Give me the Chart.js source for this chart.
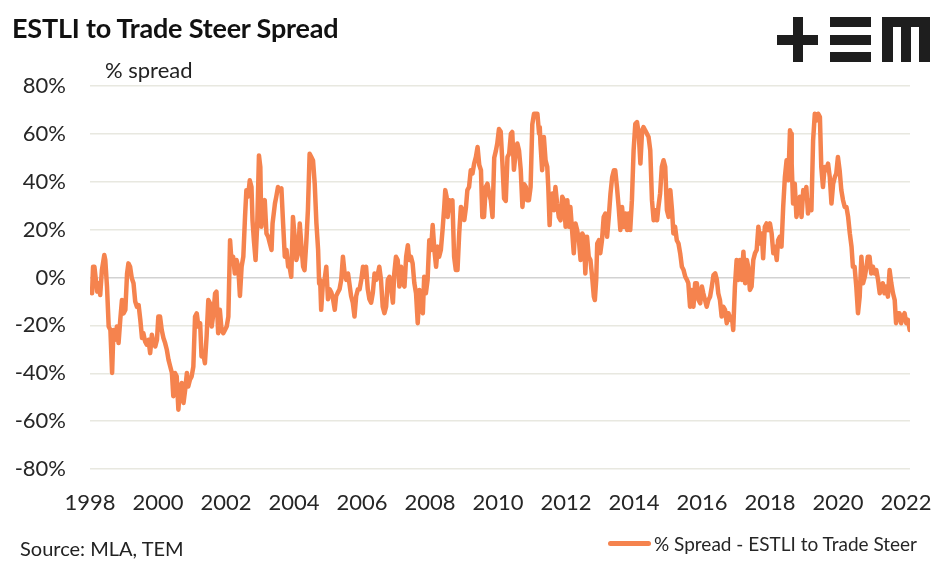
<!DOCTYPE html>
<html>
<head>
<meta charset="utf-8">
<script src="https://cdn.jsdelivr.net/npm/chart.js@4.4.1/dist/chart.umd.min.js"></script>
<style>
  body { margin: 0; background: #fff; font-family: Lato, "Open Sans", sans-serif; }
  #wrap { position: relative; width: 947px; height: 568px; overflow: hidden; }
  #chartBox { position: absolute; left: 0; top: 0; width: 947px; height: 568px; }
  #title { position: absolute; left: 12px; top: 11px; font-size: 27px; font-weight: bold; color: #111; letter-spacing: -0.2px; }
  #unit { position: absolute; left: 105px; top: 56px; font-size: 22px; color: #222; }
  #source { position: absolute; left: 20px; top: 536px; font-size: 20px; color: #222; }
  #legend { position: absolute; left: 608px; top: 531px; height: 24px; display: flex; align-items: center; font-size: 19px; color: #262626; }
  #legend .swatch { width: 43px; height: 5px; border-radius: 3px; background: #F5834E; margin-right: 3px; }
  .lg { position: absolute; background: #1e1e1e; }
</style>
</head>
<body>
<div id="wrap">
  <div id="chartBox"><canvas id="spreadChart"></canvas></div>
  <div id="title">ESTLI to Trade Steer Spread</div>
  <div id="unit">% spread</div>
  <div id="source">Source: MLA, TEM</div>
  <div id="legend"><span class="swatch"></span><span id="legendText"></span></div>
  <!-- logo -->
  <div class="lg" style="left:777px;top:35px;width:41px;height:10px"></div>
  <div class="lg" style="left:793px;top:17px;width:10px;height:45px"></div>
  <div class="lg" style="left:830px;top:17px;width:41px;height:10px"></div>
  <div class="lg" style="left:830px;top:35px;width:41px;height:10px"></div>
  <div class="lg" style="left:830px;top:52px;width:41px;height:10px"></div>
  <div class="lg" style="left:882px;top:17px;width:48px;height:10px"></div>
  <div class="lg" style="left:882px;top:17px;width:11px;height:45px"></div>
  <div class="lg" style="left:901px;top:17px;width:10px;height:45px"></div>
  <div class="lg" style="left:919px;top:17px;width:11px;height:45px"></div>
</div>
<script>
// decimal year of each reading
const dates = [
  1998.06, 1998.09, 1998.13, 1998.21, 1998.25, 1998.30, 1998.35, 1998.42, 1998.45, 1998.50,
  1998.55, 1998.60, 1998.65, 1998.69, 1998.74, 1998.79, 1998.84, 1998.89, 1998.94, 1998.99,
  1999.04, 1999.09, 1999.13, 1999.18, 1999.23, 1999.28, 1999.33, 1999.38, 1999.43, 1999.48,
  1999.53, 1999.57, 1999.62, 1999.67, 1999.72, 1999.77, 1999.82, 1999.87, 1999.92, 1999.97,
  2000.01, 2000.06, 2000.11, 2000.16, 2000.21, 2000.26, 2000.31, 2000.36, 2000.41, 2000.45,
  2000.50, 2000.55, 2000.60, 2000.65, 2000.70, 2000.75, 2000.80, 2000.85, 2000.89, 2000.94,
  2000.99, 2001.04, 2001.09, 2001.14, 2001.19, 2001.24, 2001.28, 2001.33, 2001.38, 2001.43,
  2001.48, 2001.53, 2001.58, 2001.63, 2001.68, 2001.72, 2001.77, 2001.82, 2001.87, 2001.92,
  2001.97, 2002.02, 2002.07, 2002.12, 2002.16, 2002.21, 2002.26,
  2002.31, 2002.36, 2002.41, 2002.46, 2002.51, 2002.56, 2002.60, 2002.65, 2002.70, 2002.75,
  2002.78, 2002.82, 2002.87, 2002.92, 2002.97, 2003.01, 2003.04, 2003.09, 2003.14, 2003.19,
  2003.24, 2003.29, 2003.34, 2003.37, 2003.44, 2003.48, 2003.53, 2003.58, 2003.63, 2003.68,
  2003.73, 2003.78, 2003.83, 2003.87, 2003.92, 2003.97, 2004.02, 2004.07, 2004.12, 2004.17,
  2004.22, 2004.27, 2004.31, 2004.36, 2004.41, 2004.46, 2004.51, 2004.56, 2004.61, 2004.66,
  2004.71, 2004.74, 2004.77, 2004.80, 2004.85, 2004.90, 2004.95, 2005.00, 2005.05, 2005.10,
  2005.15, 2005.20, 2005.24, 2005.29, 2005.34, 2005.39, 2005.44, 2005.49, 2005.54, 2005.59,
  2005.63, 2005.68, 2005.73, 2005.78, 2005.83, 2005.88, 2005.93, 2005.98, 2006.03, 2006.07,
  2006.12, 2006.17, 2006.22, 2006.27, 2006.32, 2006.37, 2006.42, 2006.47, 2006.51, 2006.56,
  2006.61, 2006.66, 2006.71, 2006.76, 2006.81, 2006.86, 2006.91, 2006.95, 2007.00,
  2007.05, 2007.10, 2007.15, 2007.20, 2007.25, 2007.30, 2007.35, 2007.39, 2007.44, 2007.49,
  2007.54, 2007.59, 2007.64, 2007.69, 2007.74, 2007.79, 2007.83, 2007.88, 2007.93, 2007.98,
  2008.03, 2008.08, 2008.13, 2008.18, 2008.23, 2008.27, 2008.32, 2008.37, 2008.42, 2008.45,
  2008.49, 2008.52, 2008.57, 2008.62, 2008.66, 2008.71, 2008.76, 2008.81, 2008.86, 2008.91,
  2008.96, 2009.01, 2009.06, 2009.10, 2009.15, 2009.20, 2009.25, 2009.30, 2009.35, 2009.40,
  2009.45, 2009.50, 2009.54, 2009.59, 2009.64, 2009.69, 2009.74, 2009.79, 2009.84, 2009.89,
  2009.94, 2009.98, 2010.03, 2010.08, 2010.13, 2010.18, 2010.23, 2010.28, 2010.33, 2010.38,
  2010.42, 2010.47, 2010.52, 2010.57, 2010.62, 2010.67, 2010.72, 2010.77, 2010.82, 2010.86,
  2010.91, 2010.96, 2011.01, 2011.06,
  2011.16, 2011.21, 2011.23, 2011.25, 2011.30, 2011.35, 2011.40, 2011.45, 2011.48, 2011.52,
  2011.55, 2011.60, 2011.65, 2011.69, 2011.74, 2011.79, 2011.84, 2011.89, 2011.94, 2011.99,
  2012.04, 2012.09, 2012.13, 2012.18, 2012.23, 2012.28, 2012.33, 2012.38, 2012.43, 2012.48,
  2012.53, 2012.57, 2012.62, 2012.67, 2012.72, 2012.77, 2012.82, 2012.85, 2012.89, 2012.92,
  2012.97, 2013.01, 2013.06, 2013.11, 2013.16, 2013.21, 2013.26, 2013.31, 2013.36, 2013.41,
  2013.45, 2013.50, 2013.55, 2013.60, 2013.65, 2013.70, 2013.75, 2013.80, 2013.84, 2013.89,
  2013.94, 2013.99, 2014.04, 2014.09, 2014.14, 2014.19, 2014.24, 2014.28, 2014.33, 2014.38,
  2014.43, 2014.48, 2014.53, 2014.58, 2014.63, 2014.68, 2014.72, 2014.77, 2014.82, 2014.87,
  2014.92, 2014.97, 2015.02, 2015.07, 2015.12, 2015.16, 2015.21, 2015.26, 2015.31, 2015.36,
  2015.41, 2015.46, 2015.51, 2015.56, 2015.60, 2015.65, 2015.70, 2015.75, 2015.80,
  2015.85, 2015.90, 2015.95, 2016.00, 2016.04, 2016.09, 2016.14, 2016.19, 2016.24, 2016.29,
  2016.34, 2016.39, 2016.44, 2016.48, 2016.53, 2016.58, 2016.63, 2016.68, 2016.73, 2016.78,
  2016.83, 2016.88, 2016.92, 2016.97, 2017.02, 2017.07, 2017.12, 2017.17, 2017.22, 2017.27,
  2017.32, 2017.36, 2017.41, 2017.46, 2017.51, 2017.56, 2017.61, 2017.66, 2017.71, 2017.76,
  2017.80, 2017.85, 2017.90, 2017.95, 2018.00, 2018.05, 2018.10, 2018.15, 2018.20, 2018.24,
  2018.29, 2018.34, 2018.39, 2018.44, 2018.49, 2018.54, 2018.59, 2018.62, 2018.64, 2018.68,
  2018.73, 2018.78, 2018.83, 2018.88, 2018.93, 2018.98, 2019.03, 2019.07, 2019.12, 2019.17,
  2019.22, 2019.27, 2019.32, 2019.37, 2019.42, 2019.47, 2019.51, 2019.56, 2019.61, 2019.66,
  2019.71, 2019.76, 2019.81, 2019.86, 2019.91,
  2019.95, 2020.00, 2020.05, 2020.10, 2020.15, 2020.20, 2020.25, 2020.30, 2020.35, 2020.40,
  2020.44, 2020.49, 2020.54, 2020.59, 2020.64, 2020.69, 2020.74, 2020.79, 2020.84, 2020.88,
  2020.93, 2020.98, 2021.03, 2021.08, 2021.13, 2021.18, 2021.23, 2021.27, 2021.32, 2021.37,
  2021.42, 2021.47, 2021.52, 2021.57, 2021.62, 2021.67, 2021.71, 2021.76, 2021.81, 2021.86,
  2021.91, 2021.96, 2022.01, 2022.06, 2022.11
];

// % spread, ESTLI vs trade steer
const spread = [
  -6.6, 4.5, 4.5, -5.9, -2.4, -7.3, 3.1, 9.4, 7.3, -3.8,
  -20.5, -21.9, -39.9, -21.9, -26, -20.5, -27.4, -17.7, -9.4, -15,
  -13.5, 1.7, 5.9, 4.5, -0.3, -2.4, -10, -12.2, -11.5, -17.7,
  -25.3, -23.3, -26.7, -28.1, -26, -31.6, -23.9, -27.4, -28.8, -26,
  -16.3, -16.3, -21.9, -25.3, -27.4, -30.2, -34.4, -37.2, -39.9, -49.6,
  -39.9, -41.3, -55.2, -45.5, -44.1, -52.4, -46.9, -39.9, -45.5, -42.7,
  -41.3, -37.2, -16.3, -15, -20.5, -19.1, -33, -31.6, -35.8, -24.6,
  -9.4, -10.8, -20.5, -15, -6.6, -5.9, -23.3, -13.5, -21.9, -23.3,
  -21.9, -20.5, -16.3, 15.6, 7.3, 8.7, 1.7,
  7.3, 4.5, -7.7, 4.5, 8.7, 25.3, 36.5, 33.8, 40.6, 37.8,
  23.9, 15.6, 7.3, 22.6, 51, 46.2, 21.2, 30.9, 32.3, 18.4,
  17, 14.2, 11.5, 22.6, 30.9, 33.8, 37.8, 36.5, 37.2, 22.6,
  8.7, 11.5, 4.5, 4.5, 0.3, 25.3, 17, 7.3, 10.1, 22.6,
  12.9, 4.5, 3.1, 14.2, 28.1, 51.7, 50.3, 48.9, 39.2, 22.6,
  11.5, -2.5, -1, -13.5, -2.5, -1, 4.5, -9.1, -4.9, -6.3,
  -9.1, -13.5, -7.7, -6.3, -4.9, -1, 8.7, 1.7, -1, 1.7,
  -2.5, -7.7, -10.5, -16.3, -7.7, -4.9, -4.9, -1, 4.5, 0.3,
  4.5, -4.9, -9.1, -10.5, -6.3, 1.7, -1, 1.7, 4.5, -1,
  -12.2, -14.9, -12.2, -1, 0.3, -4.9, -10.5, 1.7, 8.7,
  7.3, -3.8, 4.5, -2.4, -3.8, 8.7, 13.5, 7.3, 8.7, 5.9,
  -2.4, -6.6, -19.1, -5.2, -13.5, -14.9, 0.3, -6.6, -1, 15.6,
  11.5, 21.9, 11.5, 4.5, 12.9, 8.7, 11.5, 19.8, 29.5, 36.5,
  33.7, 25.3, 32.3, 28.1, 32.3, 8.7, 3.1, 3.1, 18.4, 29.5,
  28.1, 24, 29.5, 36.5, 37.8, 44.8, 43.4, 47.6, 50.3, 54.5,
  47, 44.8, 25.3, 25.3, 37.8, 39.2, 35, 32.3, 25.3, 50,
  53, 56, 62, 61, 48, 33, 32, 50.3, 51.7, 60,
  60.8, 45, 52, 56, 53, 45, 29.5, 39, 37.8, 32.3,
  32.3, 37.8, 64, 68.4,
  68.4, 60.1, 62.8, 56, 44.8, 58.7, 49, 46.2, 37.8, 21.9,
  32.3, 35.1, 28.1, 37.8, 30.9, 25.3, 23.9, 33.7, 32.3, 21.2,
  32.3, 21.2, 29.5, 19.8, 10.1, 22.6, 19.8, 15.6, 7.3, 18.4,
  17, 1.7, 17, 8.7, 7.3, 0.3, -8, -9.4, -0.9, 14.2,
  15.6, 10.1, 15.6, 25.3, 26.7, 17, 25.3, 35.1, 42, 44.8,
  44.8, 37.8, 29.5, 19.8, 29.5, 21.2, 26.7, 19.8, 26.7, 19.8,
  32.3, 53.1, 64.2, 64.9, 60.1, 47.6, 61.5, 62.8, 61.5, 60.1,
  58.7, 53.1, 32.3, 23.9, 28.1, 23.9, 29.5, 35.1, 46.2, 49,
  46.2, 28.1, 25.3, 36.5, 28.1, 18.4, 21.2, 15.6, 14.2, 10.1,
  4.5, 3.1, 0.3, -1, -2.4, -12.2, -5.2, -12.2, -2.4,
  -2.4, -9.4, -10.8, -3.8, -6.6, -9.4, -12.2, -9.4, -8, -3.8,
  1, 1.7, -1, -6.6, -9.4, -16.3, -12.2, -13.5, -19.1, -14.9,
  -17.7, -16.3, -21.9, -3.8, 7.3, -1, 7.3, -1, 10.8, -2.4,
  7.3, 4.5, -5.2, -3.8, 7.3, 10.1, 11.5, 21.2, 14.2, 18.4,
  8, 21.2, 22.6, 19.8, 22.6, 18.4, 10.1, 12.9, 7.3, 15.6,
  17, 12.9, 29.5, 42, 49, 40.6, 61.5, 60.1, 47.6, 30.9,
  39.2, 25.3, 29.5, 33.7, 25.3, 36.5, 33.7, 37.8, 26.7, 32.3,
  28.1, 57.3, 68.4, 65.6, 68.4, 67, 46.2, 37.8, 46.2, 44.8,
  47.6, 42, 30.9, 39.2, 42,
  43.4, 50.3, 44.8, 36.5, 32.3, 29.5, 29.5, 25.3, 18.4, 12.9,
  4.5, 4.5, -3.8, -14.9, -8, 8.7, -2.4, 0.3, 4.5, 8.7,
  8.7, 1.7, 4.5, 1.7, 3.1, -1, -6.6, -3.8, -2.4, -6.6,
  -3.8, -8, 3.1, -2.4, -6.6, -9.4, -19.1, -14.9, -14.9, -19.1,
  -16.3, -14.9, -19.1, -17.7, -21.9
];

const yTicks = [-80, -60, -40, -20, 0, 20, 40, 60, 80];
const xTicks = [1998, 2000, 2002, 2004, 2006, 2008, 2010, 2012, 2014, 2016, 2018, 2020, 2022];
const seriesLabel = '% Spread - ESTLI to Trade Steer';

const points = dates.map((d, i) => ({ x: d, y: spread[i] }));
const tickFont = { family: 'Lato', size: 22 };
document.getElementById('legendText').textContent = seriesLabel;

new Chart(document.getElementById('spreadChart'), {
    type: 'line',
    data: {
        datasets: [{
            label: seriesLabel,
            data: points,
            borderColor: '#F5834E',
            backgroundColor: '#F5834E',
            borderWidth: 4.5,
            pointRadius: 0,
            tension: 0,
            borderJoinStyle: 'round',
            borderCapStyle: 'round'
        }]
    },
    options: {
        responsive: true,
        maintainAspectRatio: false,
        animation: false,
        layout: { padding: { left: 0, right: 37, top: 86, bottom: 44 } },
        scales: {
            x: {
                type: 'linear',
                min: xTicks[0],
                max: 2022.12,
                grid: { display: false },
                border: { display: false },
                afterBuildTicks: (scale) => { scale.ticks = xTicks.map(v => ({ value: v })); },
                afterFit: (scale) => { scale.height = 55; },
                ticks: {
                    autoSkip: false,
                    maxRotation: 0,
                    padding: 13,
                    color: '#262626',
                    font: tickFont,
                    callback: (v) => String(v)
                }
            },
            y: {
                min: yTicks[0],
                max: yTicks[yTicks.length - 1],
                afterBuildTicks: (scale) => { scale.ticks = yTicks.map(v => ({ value: v })); },
                afterFit: (scale) => { scale.width = 90; },
                border: { display: false },
                grid: {
                    drawTicks: false,
                    lineWidth: 1.5,
                    color: (ctx) => ctx.tick && ctx.tick.value === 0 ? '#d2d2d2' : '#e8e8e0'
                },
                ticks: {
                    padding: 24,
                    color: '#262626',
                    font: tickFont,
                    callback: (v) => v + '%'
                }
            }
        },
        plugins: {
            tooltip: { enabled: false },
            legend: { display: false }
        }
    }
});
</script>
</body>
</html>
